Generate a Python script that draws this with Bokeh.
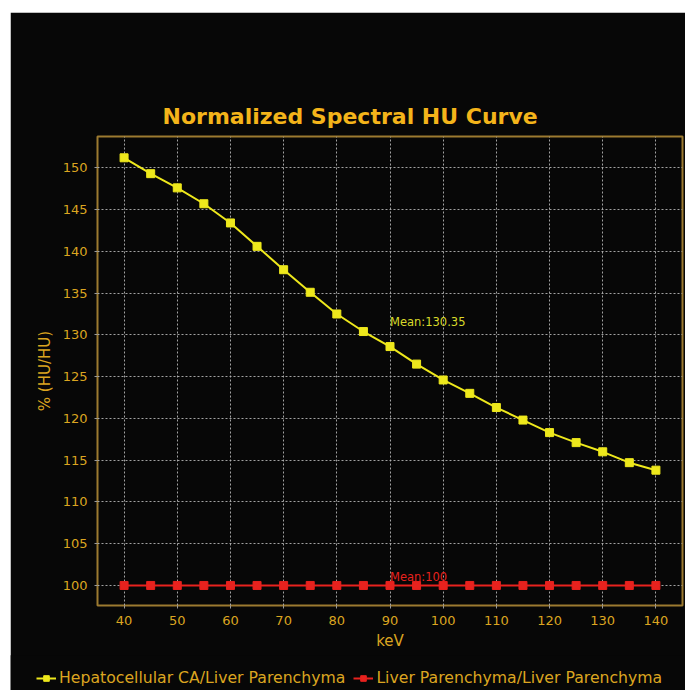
from bokeh.plotting import figure
from bokeh.models import Legend, LegendItem, FixedTicker, Range1d, ColumnDataSource
from bokeh.core.properties import value
from bokeh.embed import file_html
from bokeh.resources import INLINE

# ---- data ----
kev = [40, 45, 50, 55, 60, 65, 70, 75, 80, 85, 90, 95, 100, 105, 110, 115, 120, 125, 130, 135, 140]
hcc = [151.2, 149.3, 147.6, 145.7, 143.4, 140.6, 137.8, 135.1, 132.5, 130.4, 128.6,
       126.5, 124.6, 123.0, 121.3, 119.8, 118.3, 117.1, 116.0, 114.7, 113.8]
liver = [100, 100, 100, 100, 100, 100, 100, 100, 100, 100, 100,
         100, 100, 100, 100, 100, 100, 100, 100, 100, 100]
series_names = ["Hepatocellular CA/Liver Parenchyma", "Liver Parenchyma/Liver Parenchyma"]
mean_x = [90, 90]
mean_y = [130.35, 100]
mean_labels = ["Mean:130.35", "Mean:100"]
x_ticks = [40, 50, 60, 70, 80, 90, 100, 110, 120, 130, 140]
y_ticks = [100, 105, 110, 115, 120, 125, 130, 135, 140, 145, 150]

BG = "#070707"
GOLD = "#DBA520"
TITLE_GOLD = "#F4B41A"
FRAME = "#9C7A30"
YELLOW = "#EEE81C"
MEAN_YELLOW = "#DADA2A"
RED = "#E8221E"
FONT = "DejaVu Sans"

p = figure(width=675, height=644, output_backend="svg", toolbar_location=None,
           x_range=Range1d(35, 145), y_range=Range1d(97.6, 153.75),
           background_fill_color=BG, border_fill_color=BG,
           min_border_left=87, min_border_right=3, min_border_top=124, min_border_bottom=51)
p.margin = (12, 0, 0, 10)

p.outline_line_color = FRAME
p.outline_line_width = 2

p.title.text = "Normalized Spectral HU Curve"
p.title.text_color = TITLE_GOLD
p.title.text_font = FONT
p.title.text_font_size = "22px"
p.title.text_font_style = "bold"
p.title.align = "left"
p.title.offset = 65
p.title.standoff = 16

for ax in (p.xaxis[0], p.yaxis[0]):
    ax.axis_line_color = None
    ax.major_tick_line_color = "#9A9A9A"
    ax.major_tick_out = 3
    ax.major_tick_in = 0
    ax.minor_tick_line_color = None
    ax.major_label_text_color = GOLD
    ax.major_label_text_font = FONT
    ax.major_label_text_font_size = "13px"
    ax.axis_label_text_color = GOLD
    ax.axis_label_text_font = FONT
    ax.axis_label_text_font_size = "15px"
    ax.axis_label_text_font_style = "normal"

p.xaxis.ticker = FixedTicker(ticks=x_ticks)
p.yaxis.ticker = FixedTicker(ticks=y_ticks)
p.xaxis.axis_label = "keV"
p.yaxis.axis_label = "% (HU/HU)"
p.xaxis.major_label_standoff = 7
p.yaxis.major_label_standoff = 7
p.xaxis.axis_label_standoff = 4
p.yaxis.axis_label_standoff = 6

for g in (p.xgrid[0], p.ygrid[0]):
    g.grid_line_color = "#B4B4B4"
    g.grid_line_dash = "2 2"
    g.grid_line_width = 1
    g.grid_line_alpha = 0.9

src1 = ColumnDataSource(dict(x=kev, y=hcc))
src2 = ColumnDataSource(dict(x=kev, y=liver))

p.line("x", "y", source=src1, line_color=YELLOW, line_width=2)
p.scatter("x", "y", source=src1, marker="square", size=8, fill_color=YELLOW, line_color=YELLOW)
p.line("x", "y", source=src2, line_color=RED, line_width=2)
p.scatter("x", "y", source=src2, marker="square", size=8, fill_color=RED, line_color=RED)

p.text(x=[mean_x[0]], y=[mean_y[0]], text=[mean_labels[0]], text_color=MEAN_YELLOW,
       text_font=value(FONT), text_font_size="11.5px", text_baseline="bottom", text_align="left", y_offset=-3)
p.text(x=[mean_x[1]], y=[mean_y[1]], text=[mean_labels[1]], text_color=RED,
       text_font=value(FONT), text_font_size="11.5px", text_baseline="bottom", text_align="left", y_offset=-1)

# ---- legend strip (below the chart, wider than the plot frame) ----
lg = figure(width=675, height=35, output_backend="svg", toolbar_location=None,
            x_range=Range1d(1000, 1001), y_range=Range1d(1000, 1001),
            background_fill_color=BG, border_fill_color=BG,
            min_border_left=0, min_border_right=0, min_border_top=0, min_border_bottom=0)
lg.margin = (-1, 0, 0, 10)
lg.outline_line_color = None
lg.axis.visible = False
lg.grid.visible = False
ll1 = lg.line("x", "y", source=src1, line_color=YELLOW, line_width=2)
ls1 = lg.scatter("x", "y", source=src1, marker="square", size=8, fill_color=YELLOW, line_color=YELLOW)
ll2 = lg.line("x", "y", source=src2, line_color=RED, line_width=2)
ls2 = lg.scatter("x", "y", source=src2, marker="square", size=8, fill_color=RED, line_color=RED)

legend = Legend(items=[LegendItem(label=series_names[0], renderers=[ll1, ls1]),
                       LegendItem(label=series_names[1], renderers=[ll2, ls2])],
                orientation="horizontal", location=(26, 3),
                background_fill_color=BG, border_line_color=None,
                label_text_color=GOLD, label_text_font=FONT, label_text_font_size="15.7px",
                glyph_width=20, glyph_height=14, label_standoff=3, spacing=8,
                padding=2, margin=0)
lg.add_layout(legend, "center")

open("out.html", "w").write(file_html([p, lg], INLINE))
